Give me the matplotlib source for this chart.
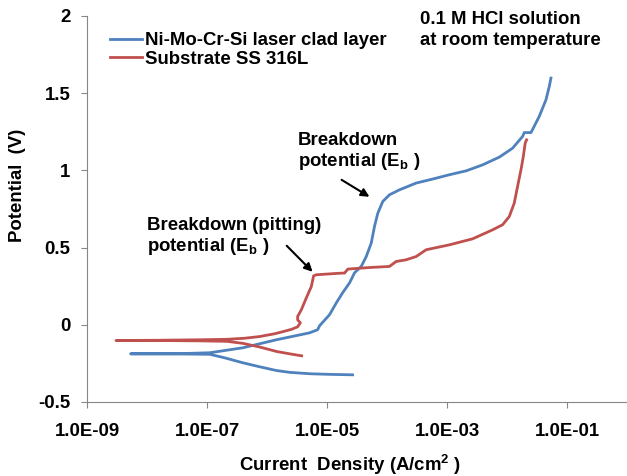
import matplotlib
matplotlib.use("Agg")
import matplotlib.pyplot as plt

# --------------------------------------------------------------
# Data (A/cm2, V)
# --------------------------------------------------------------
clad_current = [
    2.67e-5, 1.10e-5, 5.13e-6, 2.39e-6, 1.43e-6, 7.57e-7, 3.95e-7, 1.98e-7,
    1.11e-7, 3.52e-8, 5.33e-9,
    3.52e-8, 1.11e-7, 3.95e-7, 1.43e-6, 5.13e-6, 6.98e-6, 7.53e-6, 1.10e-5,
    1.43e-5, 1.82e-5, 2.38e-5, 2.88e-5, 3.72e-5, 4.51e-5, 5.46e-5, 6.19e-5,
    7.03e-5, 8.51e-5, 1.10e-4, 1.61e-4, 3.06e-4, 5.78e-4, 1.10e-3, 2.08e-3,
    3.93e-3, 7.45e-3, 1.24e-2, 1.82e-2, 1.94e-2, 2.51e-2, 3.44e-2, 4.46e-2,
    5.06e-2, 5.40e-2,
]
clad_potential = [
    -0.324, -0.321, -0.317, -0.308, -0.296, -0.272, -0.246, -0.214,
    -0.191, -0.189, -0.188,
    -0.187, -0.181, -0.149, -0.097, -0.052, -0.032, -0.006, 0.065,
    0.142, 0.207, 0.272, 0.337, 0.378, 0.442, 0.529, 0.637,
    0.723, 0.799, 0.842, 0.874, 0.918, 0.944, 0.972, 0.997,
    1.036, 1.086, 1.144, 1.220, 1.245, 1.245, 1.349, 1.457,
    1.543, 1.598,
]

sub_current = [
    3.78e-6, 2.39e-6, 1.45e-6, 7.57e-7, 3.95e-7, 2.13e-7, 7.6e-8, 1.64e-8,
    3.04e-9,
    1.64e-8, 7.6e-8, 2.13e-7, 4.26e-7, 7.57e-7, 1.34e-6, 1.82e-6, 2.58e-6,
    3.24e-6, 3.60e-6, 3.24e-6, 3.24e-6, 3.73e-6, 4.53e-6, 5.48e-6, 5.98e-6,
    6.64e-6, 1.62e-5, 1.96e-5, 2.23e-5, 5.12e-5, 1.10e-4, 1.42e-4, 2.08e-4,
    3.06e-4, 4.49e-4, 1.10e-3, 2.68e-3, 5.75e-3, 8.45e-3, 1.09e-2, 1.32e-2,
    1.50e-2, 1.71e-2, 1.87e-2, 2.01e-2, 2.12e-2,
]
sub_potential = [
    -0.201, -0.188, -0.173, -0.144, -0.120, -0.107, -0.104, -0.102,
    -0.102,
    -0.100, -0.097, -0.094, -0.087, -0.076, -0.058, -0.045, -0.029,
    -0.013, 0.013, 0.032, 0.054, 0.097, 0.175, 0.248, 0.317,
    0.324, 0.334, 0.335, 0.361, 0.371, 0.378, 0.410, 0.421,
    0.442, 0.486, 0.518, 0.557, 0.615, 0.648, 0.701, 0.788,
    0.896, 1.004, 1.090, 1.177, 1.198,
]

x_ticks = [1e-9, 1e-7, 1e-5, 1e-3, 1e-1]
x_tick_labels = ["1.0E-09", "1.0E-07", "1.0E-05", "1.0E-03", "1.0E-01"]
y_ticks = [-0.5, 0, 0.5, 1, 1.5, 2]
y_tick_labels = ["-0.5", "0", "0.5", "1", "1.5", "2"]

# --------------------------------------------------------------
# Style
# --------------------------------------------------------------
plt.rcParams["font.family"] = ["Liberation Sans", "DejaVu Sans"]
plt.rcParams["font.weight"] = "bold"
plt.rcParams["mathtext.fontset"] = "custom"
plt.rcParams["mathtext.rm"] = "Liberation Sans:bold"
plt.rcParams["mathtext.it"] = "Liberation Sans:bold"
plt.rcParams["mathtext.bf"] = "Liberation Sans:bold"
plt.rcParams["mathtext.default"] = "regular"

FS = 13.4
W, H = 627, 476
BLUE = "#4F81BD"
RED = "#C0504D"
GRAY = "#868686"


def fx(px):
    return px / W


def fy(py):
    return 1 - py / H


fig = plt.figure(figsize=(W / 100, H / 100), dpi=100)
ax = fig.add_axes([fx(87), fy(402), fx(627 - 87), (402 - 16) / H])

ax.plot(clad_current, clad_potential, color=BLUE, linewidth=2.0,
        label="Ni-Mo-Cr-Si laser clad layer", solid_joinstyle="round")
ax.plot(sub_current, sub_potential, color=RED, linewidth=2.0,
        label="Substrate SS 316L", solid_joinstyle="round")

ax.set_xscale("log")
ax.set_xlim(1e-9, 1e0)
ax.set_ylim(-0.5, 2)
ax.set_xticks(x_ticks)
ax.set_xticklabels(x_tick_labels, fontweight="bold")
ax.set_yticks(y_ticks)
ax.set_yticklabels(y_tick_labels, fontweight="bold")
ax.minorticks_off()
ax.tick_params(labelsize=FS, color=GRAY, length=4, width=0.8)
ax.tick_params(axis="y", pad=8)
ax.tick_params(axis="x", pad=11)

for side in ["top", "right"]:
    ax.spines[side].set_visible(False)
for side in ["left", "bottom"]:
    ax.spines[side].set_color(GRAY)
    ax.spines[side].set_linewidth(0.8)

# axis titles
fig.text(fx(350), fy(465), "Current  Density (A/cm$^{2}$ )", fontsize=FS,
         fontweight="bold", ha="center", va="center")
fig.text(fx(18), fy(185), "Potential  (V)", fontsize=FS, rotation=90,
         fontweight="bold", ha="center", va="center")

# legend
ax.legend(loc="upper left", bbox_to_anchor=(fx(110), fy(32)),
          bbox_transform=fig.transFigure, frameon=False,
          prop={"size": FS, "weight": "bold"},
          handlelength=1.7, handletextpad=0.2, borderpad=0,
          borderaxespad=0, labelspacing=0.1)

fig.text(fx(420), fy(30), "0.1 M HCl solution\nat room temperature",
         fontsize=FS, fontweight="bold", ha="left", va="center",
         linespacing=1.3)

# annotations
fig.text(fx(298), fy(152), "Breakdown\npotential (E$_{b}$ )", fontsize=FS,
         fontweight="bold", ha="left", va="center", linespacing=1.15)
ax.annotate("", xy=(5.1e-5, 0.829), xytext=(1.75e-5, 0.939),
            arrowprops=dict(arrowstyle="-|>", color="black", lw=1.5,
                            mutation_scale=12, shrinkA=0, shrinkB=0))

fig.text(fx(147), fy(237), "Breakdown (pitting)\npotential (E$_{b}$ )",
         fontsize=FS, fontweight="bold", ha="left", va="center",
         linespacing=1.15)
ax.annotate("", xy=(5.75e-6, 0.343), xytext=(2.13e-6, 0.512),
            arrowprops=dict(arrowstyle="-|>", color="black", lw=1.5,
                            mutation_scale=12, shrinkA=0, shrinkB=0))

fig.savefig("out.png", dpi=100)
